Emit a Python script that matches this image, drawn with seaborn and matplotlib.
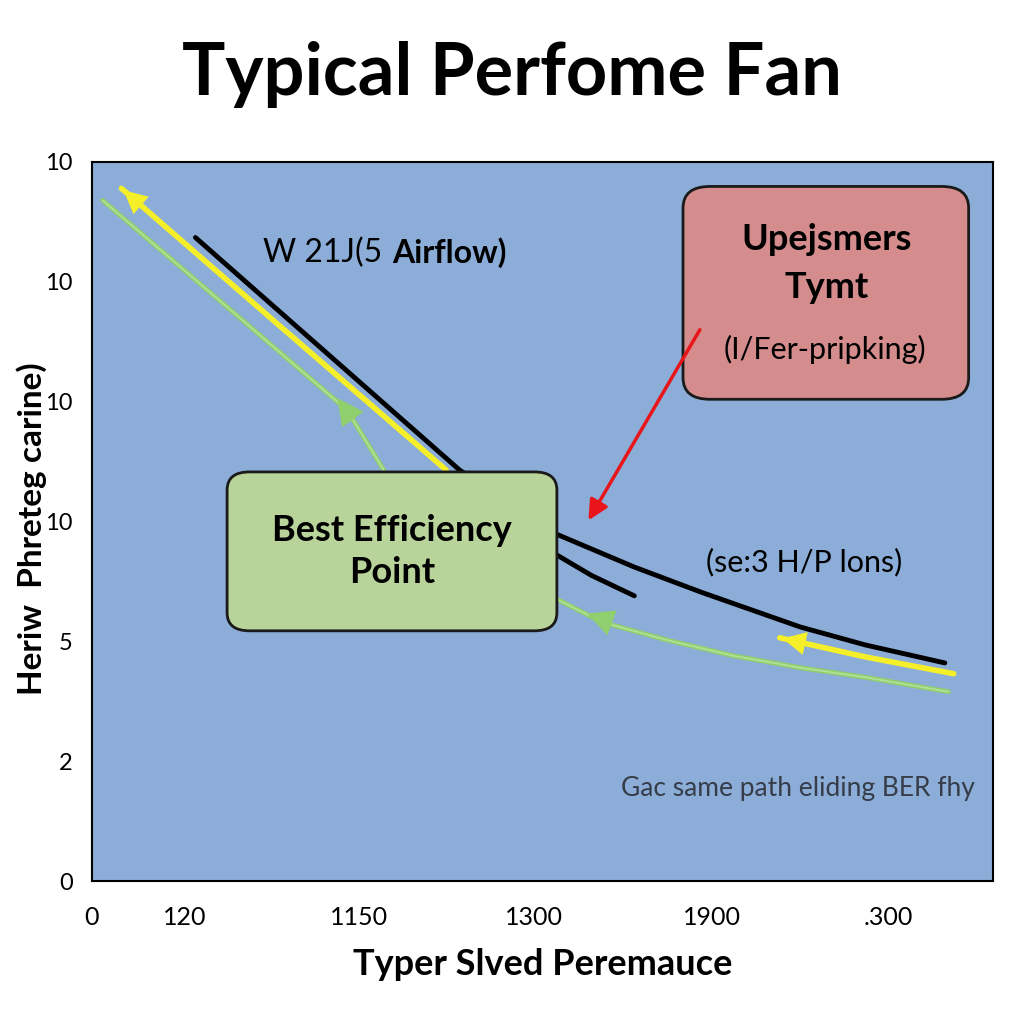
import numpy as np
import pandas as pd
import matplotlib
matplotlib.use("Agg")
import matplotlib.pyplot as plt
import seaborn as sns
from matplotlib.patches import FancyBboxPatch

# curve points (x in 0..100 axis units, y in 0..6 tick slots)
black_x = [11.6, 41.2, 51.9, 60.8, 68.3, 79.4, 86.7, 95.6]
black_y = [5.37, 3.43, 2.90, 2.62, 2.41, 2.12, 1.97, 1.82]
black2_x = [51.9, 56.0, 60.8]
black2_y = [2.73, 2.55, 2.38]
yellow_x = [3.3, 20.0, 39.7]
yellow_y = [5.78, 4.70, 3.43]
yellow2_x = [77.1, 86.7, 96.6]
yellow2_y = [2.03, 1.87, 1.73]
green_x = [1.2, 15.0, 28.6, 32.7]
green_y = [5.68, 4.80, 3.93, 3.43]
green2_x = [51.9, 57.2, 64.5, 71.9, 79.4, 86.7, 96.0]
green2_y = [2.36, 2.16, 2.01, 1.88, 1.78, 1.70, 1.58]

xtick_pos = [0, 10.4, 29.9, 49.6, 69.5, 89.3]
xtick_labels = ["0", "120", "1150", "1300", "1900", ".300"]
ytick_pos = [0, 1, 2, 3, 4, 5, 6]
ytick_labels = ["0", "2", "5", "10", "10", "10", "10"]

sns.set_style("white")
plt.rcParams['font.family'] = ['Lato', 'DejaVu Sans']
plt.rcParams['text.color'] = 'black'
plt.rcParams['axes.labelcolor'] = 'black'
plt.rcParams['xtick.color'] = 'black'
plt.rcParams['ytick.color'] = 'black'

fig = plt.figure(figsize=(10.24, 10.24), dpi=100)
ax = fig.add_axes([0.0898, 0.1396, 0.8799, 0.7022])
ax.set_facecolor('#8badd8')

for gx, gy in [(green_x, green_y), (green2_x, green2_y)]:
    sns.lineplot(x=gx, y=gy, ax=ax, color='#8fcf6e', lw=3.5, zorder=2)
    sns.lineplot(x=gx, y=gy, ax=ax, color='#b5e09a', lw=1.2, zorder=2)
sns.lineplot(x=yellow_x, y=yellow_y, ax=ax, color='#f5ef2a', lw=4, zorder=3)
sns.lineplot(x=yellow2_x, y=yellow2_y, ax=ax, color='#f5ef2a', lw=4, zorder=3)
sns.lineplot(x=black_x, y=black_y, ax=ax, color='black', lw=3.5, zorder=4)
sns.lineplot(x=black2_x, y=black2_y, ax=ax, color='black', lw=3.5, zorder=4)

# arrow heads
def head(p0, p1, color, size):
    ax.annotate('', xy=p1, xytext=p0,
                arrowprops=dict(arrowstyle='-|>', color=color, lw=0,
                                mutation_scale=size), zorder=5)

head((yellow_x[1], yellow_y[1]), (yellow_x[0], yellow_y[0]), '#f5ef2a', 42)
head((yellow2_x[1], yellow2_y[1]), (yellow2_x[0], yellow2_y[0]), '#f5ef2a', 42)
head((31.5, 3.62), (27.3, 4.05), '#8fcf6e', 48)
head((61.0, 2.08), (55.2, 2.24), '#8fcf6e', 48)

ax.annotate('', xy=(55.5, 2.99), xytext=(68.3, 4.62),
            arrowprops=dict(arrowstyle='-|>', color='#e8161b', lw=2.5,
                            mutation_scale=30), zorder=6)

green_box = FancyBboxPatch((0.150, 0.348), 0.366, 0.221, transform=ax.transAxes,
                           boxstyle='round,pad=0,rounding_size=0.025',
                           fc='#b8d49a', ec='#1a1a1a', lw=2, zorder=7)
ax.add_patch(green_box)
red_box = FancyBboxPatch((0.656, 0.670), 0.317, 0.296, transform=ax.transAxes,
                         boxstyle='round,pad=0,rounding_size=0.03',
                         fc='#d48c8c', ec='#1a1a1a', lw=2, zorder=5)
ax.add_patch(red_box)

ax.text(0.333, 0.458, "Best Efficiency\nPoint", transform=ax.transAxes,
        ha='center', va='center', fontsize=26, fontweight='bold',
        linespacing=1.35, zorder=8)
ax.text(0.815, 0.892, "Upejsmers", transform=ax.transAxes, ha='center',
        va='center', fontsize=26, fontweight='bold', zorder=8)
ax.text(0.815, 0.826, "Tymt", transform=ax.transAxes, ha='center',
        va='center', fontsize=26, fontweight='bold', zorder=8)
ax.text(0.813, 0.740, "(I/Fer-pripking)", transform=ax.transAxes, ha='center',
        va='center', fontsize=22, zorder=8)
ax.text(19.2, 5.24, "W 21J(5", ha='left', va='center', fontsize=23)
ax.text(33.6, 5.24, "Airflow)", ha='left', va='center', fontsize=23,
        fontweight='bold')
ax.text(79.8, 2.66, "(se:3 H/P lons)", ha='center', va='center', fontsize=22)
ax.text(99.0, 0.77, "Gac same path eliding BER fhy", ha='right', va='center',
        fontsize=19, color='#363c48')

ax.set_xlim(0, 101)
ax.set_ylim(0, 6)
ax.set_xticks(xtick_pos)
ax.set_xticklabels(xtick_labels, fontsize=18)
ax.set_yticks(ytick_pos)
ax.set_yticklabels(ytick_labels, fontsize=17)
ax.tick_params(axis='x', direction='out', length=10, width=1.5,
               color='black', pad=8)
ax.tick_params(axis='y', direction='out', length=10, width=1.5,
               color='black', pad=4)
for s in ax.spines.values():
    s.set_color('black')
    s.set_linewidth(1.5)

ax.set_xlabel("Typer Slved Peremauce", fontsize=26, fontweight='bold',
              labelpad=14)
ax.set_ylabel("Heriw  Phreteg carine)", fontsize=24, fontweight='bold')
ax.yaxis.set_label_coords(-0.05, 0.49)
fig.suptitle("Typical Perfome Fan", fontsize=52, fontweight='bold', y=0.96)

fig.savefig("out.png", dpi=100, facecolor='white')
